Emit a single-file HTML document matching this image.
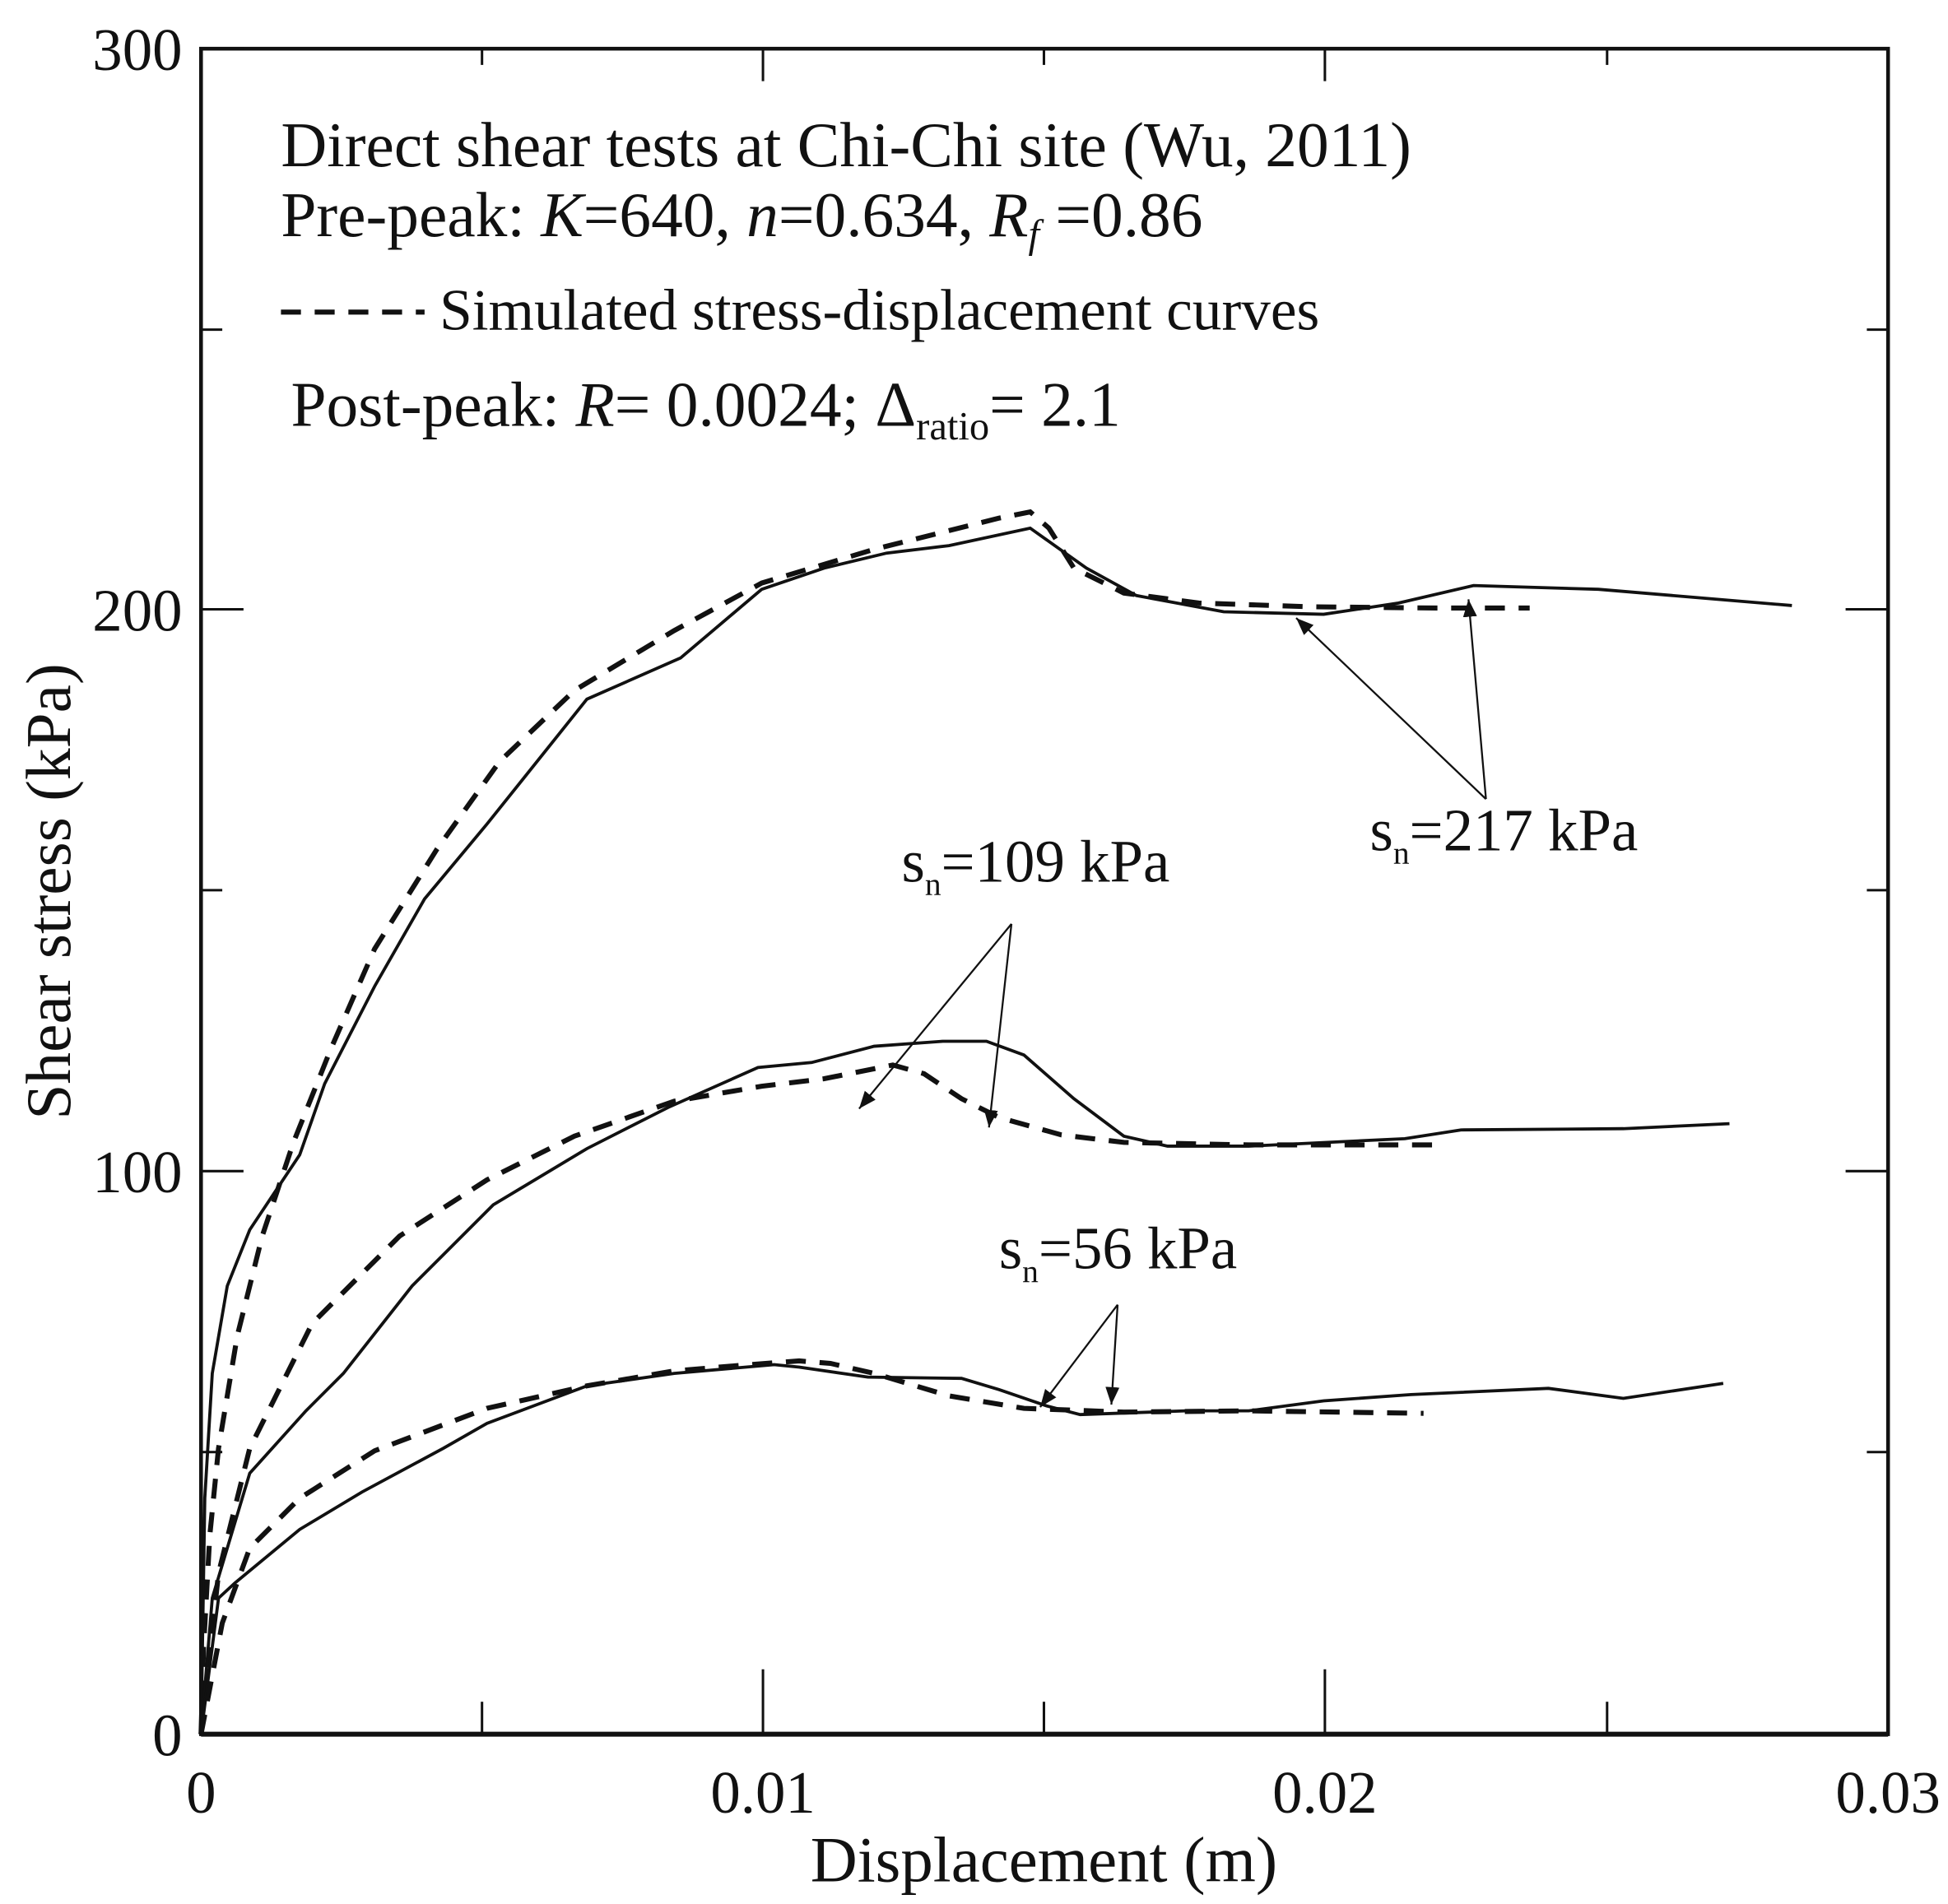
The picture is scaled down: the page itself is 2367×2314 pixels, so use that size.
<!DOCTYPE html>
<html><head><meta charset="utf-8"><style>
html,body{margin:0;padding:0;background:#fff;}
svg{display:block;}
text{font-family:"Liberation Serif",serif;fill:#111;}
</style></head><body>
<svg width="2367" height="2314" viewBox="0 0 1560 1525" preserveAspectRatio="none" xmlns="http://www.w3.org/2000/svg">
<defs>
<marker id="ah" viewBox="0 0 10 10" refX="10" refY="5" markerWidth="14" markerHeight="14" markerUnits="userSpaceOnUse" orient="auto">
<path d="M0,1 L10,5 L0,9 z" fill="#111"/>
</marker>
</defs>
<g stroke="#111" fill="none">
<rect x="161" y="39" width="1351" height="1350" stroke-width="3"/>
<line x1="161" y1="1389" x2="1512" y2="1389" stroke-width="4"/>
<g stroke-width="2">
<line x1="161" y1="264" x2="178" y2="264"/><line x1="1512" y1="264" x2="1495" y2="264"/>
<line x1="161" y1="488" x2="195" y2="488"/><line x1="1512" y1="488" x2="1478" y2="488"/>
<line x1="161" y1="713" x2="178" y2="713"/><line x1="1512" y1="713" x2="1495" y2="713"/>
<line x1="161" y1="938" x2="195" y2="938"/><line x1="1512" y1="938" x2="1478" y2="938"/>
<line x1="161" y1="1163" x2="178" y2="1163"/><line x1="1512" y1="1163" x2="1495" y2="1163"/>
<line x1="161" y1="39" x2="195" y2="39"/>
<line x1="386" y1="1389" x2="386" y2="1363"/><line x1="611" y1="1389" x2="611" y2="1337"/>
<line x1="836" y1="1389" x2="836" y2="1363"/><line x1="1061" y1="1389" x2="1061" y2="1337"/>
<line x1="1287" y1="1389" x2="1287" y2="1363"/>
<line x1="386" y1="39" x2="386" y2="52"/><line x1="611" y1="39" x2="611" y2="65"/>
<line x1="836" y1="39" x2="836" y2="52"/><line x1="1061" y1="39" x2="1061" y2="65"/>
<line x1="1287" y1="39" x2="1287" y2="52"/>
</g>
<polyline stroke-width="2.5" points="161,1389 164,1200 170,1100 182,1030 200,985 220,955 240,925 260,868 300,790 340,720 390,660 470,560 545,527 610,472 660,455 710,443 760,437 825,423 870,455 910,477 980,490 1060,492 1120,483 1180,469 1280,472 1435,485"/>
<polyline stroke-width="4" stroke-dasharray="16,11" points="161,1389 163,1320 168,1230 175,1160 190,1070 210,990 235,915 265,840 300,760 350,680 400,610 460,553 540,505 610,467 700,440 800,415 825,410 840,423 860,455 900,475 960,483 1050,486 1150,487 1225,487"/>
<polyline stroke-width="2.5" points="161,1389 170,1280 200,1180 245,1130 275,1100 330,1030 395,965 470,920 535,887 607,855 650,851 700,838 755,834 790,834 820,845 860,880 900,910 935,918 1000,918 1125,912 1170,905 1300,904 1385,900"/>
<polyline stroke-width="4" stroke-dasharray="16,11" points="161,1389 175,1260 200,1160 250,1060 320,990 390,945 460,910 540,882 610,870 660,864 715,853 740,860 770,880 800,895 850,909 900,915 1000,917 1150,917"/>
<polyline stroke-width="2.5" points="161,1389 175,1280 188,1268 240,1225 290,1195 355,1160 390,1140 470,1110 540,1100 620,1093 640,1095 695,1103 770,1104 800,1113 838,1126 865,1133 950,1130 1000,1130 1060,1122 1130,1117 1240,1112 1300,1120 1380,1108"/>
<polyline stroke-width="4" stroke-dasharray="16,11" points="161,1389 178,1300 200,1240 240,1200 300,1162 390,1128 470,1110 540,1098 600,1093 640,1090 665,1092 700,1100 760,1118 820,1128 900,1131 1000,1130 1140,1132"/>
<g stroke-width="1.5" marker-end="url(#ah)">
<line x1="1190" y1="640" x2="1038" y2="495"/>
<line x1="1190" y1="640" x2="1176" y2="480"/>
<line x1="810" y1="740" x2="688" y2="888"/>
<line x1="810" y1="740" x2="792" y2="903"/>
<line x1="895" y1="1045" x2="833" y2="1127"/>
<line x1="895" y1="1045" x2="890" y2="1125"/>
</g>
<line x1="225" y1="250" x2="340" y2="250" stroke-width="4" stroke-dasharray="16,11"/>
</g>
<g font-size="48" text-anchor="end">
<text x="146" y="56">300</text>
<text x="146" y="505">200</text>
<text x="146" y="955">100</text>
<text x="146" y="1406">0</text>
</g>
<g font-size="48" text-anchor="middle">
<text x="161" y="1452">0</text>
<text x="611" y="1452">0.01</text>
<text x="1061" y="1452">0.02</text>
<text x="1512" y="1452">0.03</text>
</g>
<text x="836" y="1507" font-size="52" text-anchor="middle">Displacement (m)</text>
<text transform="translate(56,714) rotate(-90)" font-size="51" text-anchor="middle">Shear stress (kPa)</text>
<text x="225" y="133" font-size="51">Direct shear tests at Chi-Chi  site (Wu, 2011)</text>
<text x="225" y="189" font-size="51">Pre-peak: <tspan font-style="italic">K</tspan>=640, <tspan font-style="italic">n</tspan>=0.634, <tspan font-style="italic">R</tspan><tspan font-style="italic" font-size="32" dy="9">f</tspan><tspan dy="-9"> =0.86</tspan></text>
<text x="352" y="264" font-size="47">Simulated stress-displacement curves</text>
<text x="233" y="341" font-size="51">Post-peak: <tspan font-style="italic">R</tspan>= 0.0024; Δ<tspan font-size="32" dy="11">ratio</tspan><tspan dy="-11">= 2.1</tspan></text>
<g font-size="48">
<text x="1097" y="681">s<tspan font-size="26" dy="11">n</tspan><tspan dy="-11">=217 kPa</tspan></text>
<text x="722" y="706">s<tspan font-size="26" dy="11">n</tspan><tspan dy="-11">=109 kPa</tspan></text>
<text x="800" y="1016">s<tspan font-size="26" dy="11">n</tspan><tspan dy="-11">=56 kPa</tspan></text>
</g>
</svg>
</body></html>
